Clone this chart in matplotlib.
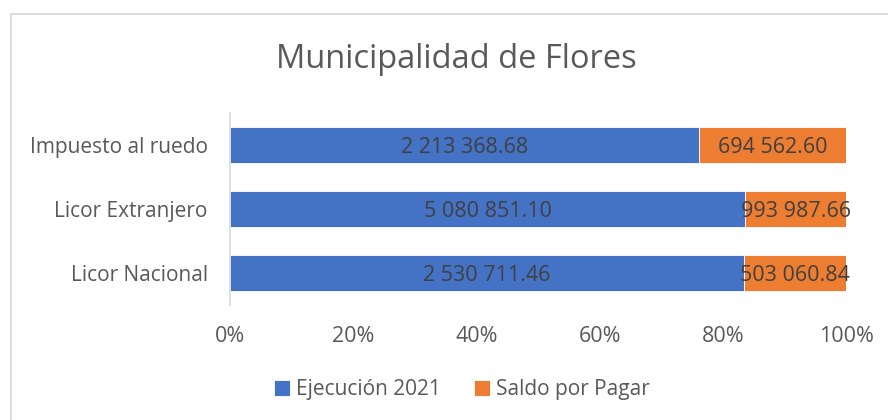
import matplotlib.pyplot as plt
import matplotlib.ticker as mticker
import numpy as np
from matplotlib.patches import Rectangle

# ── Data ─────────────────────────────────────────────────────────────
categories = ["Licor Nacional", "Licor Extranjero", "Impuesto al ruedo"]
ejecucion  = [2530711.46, 5080851.10, 2213368.68]
saldo      = [503060.84, 993987.66, 694562.60]
series_names = ["Ejecución 2021", "Saldo por Pagar"]

BLUE   = "#4472C4"
ORANGE = "#ED7D31"
TXT    = "#404040"
TICK   = "#595959"

plt.rcParams["font.family"] = ["Open Sans", "DejaVu Sans"]


def fmt(v):
    return f"{v:,.2f}".replace(",", " ")


ej = np.array(ejecucion)
sa = np.array(saldo)
tot = ej + sa
ej_p = ej / tot
sa_p = sa / tot
y = np.arange(len(categories))

fig = plt.figure(figsize=(8.88, 4.2), dpi=100)
fig.patch.set_facecolor("#ffffff")
# light outer frame (chart area border, cut off at right/bottom)
fig.patches.append(Rectangle((10.5 / 888, -0.1), 1.2, (420 - 13.5) / 420 + 0.1,
                             transform=fig.transFigure, fill=False,
                             edgecolor="#d9d9d9", linewidth=1.3))

ax = fig.add_axes([230 / 888, 1 - 305 / 420, 616 / 888, 192 / 420])
b1 = ax.barh(y, ej_p, height=0.56, color=BLUE, edgecolor="#ffffff",
             linewidth=0.6, label=series_names[0])
b2 = ax.barh(y, sa_p, left=ej_p, height=0.56, color=ORANGE,
             edgecolor="#ffffff", linewidth=0.6, label=series_names[1])

for i in range(len(categories)):
    ax.text(ej_p[i] / 2, y[i], fmt(ej[i]), ha="center", va="center_baseline",
            fontsize=15.5, color=TXT)
    ax.text(ej_p[i] + sa_p[i] / 2, y[i], fmt(sa[i]), ha="center",
            va="center_baseline", fontsize=15.5, color=TXT)

ax.set_xlim(0, 1)
ax.set_ylim(-0.5, 2.5)
ax.set_yticks(y)
ax.set_yticklabels(categories, fontsize=15, color=TICK)
ax.set_xticks(np.linspace(0, 1, 6))
ax.xaxis.set_major_formatter(mticker.PercentFormatter(1.0, decimals=0))
ax.tick_params(axis="x", length=0, pad=15, labelsize=15.5, labelcolor=TICK)
ax.tick_params(axis="y", length=0, pad=16)
for s in ["top", "right", "bottom"]:
    ax.spines[s].set_visible(False)
ax.spines["left"].set_color("#d9d9d9")
ax.spines["left"].set_linewidth(1.2)

fig.text(456 / 888, 1 - 60 / 420, "Municipalidad de Flores", ha="center",
         va="center", fontsize=23.5, color=TICK)

fig.legend(handles=[b1, b2], loc="center", bbox_to_anchor=(462 / 888, 1 - 390 / 420),
           ncol=2, frameon=False, fontsize=15, labelcolor=TICK,
           handlelength=0.75, handleheight=0.8, handletextpad=0.3,
           columnspacing=1.6)

fig.savefig("out.png", dpi=100, facecolor="#ffffff")
